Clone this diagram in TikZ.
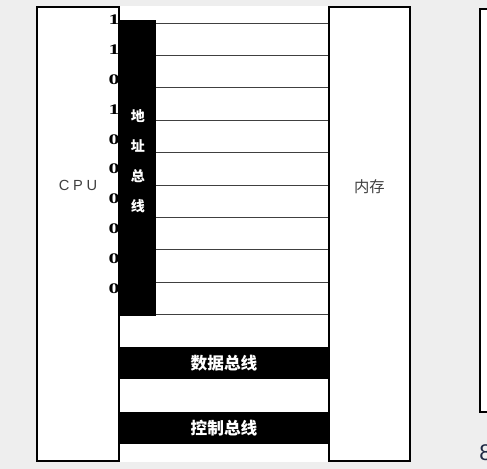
\documentclass[tikz,border=0pt]{standalone}
\usepackage{fontspec}
\usepackage{tikz}
\usetikzlibrary{positioning}
\newfontfamily\cjk{Noto Sans CJK SC}
\newfontfamily\bitfont{Liberation Serif}
\newfontfamily\cpufont[LetterSpace=25]{Liberation Sans}
\setmainfont{Liberation Sans}
\definecolor{canvas}{HTML}{EEEEEE}
\definecolor{pagenum}{HTML}{1F2A44}
\def\u{0.75pt}

\begin{document}
\begin{tikzpicture}[
        x=\u,y=-\u,
        unit/.style={draw=black,line width=1.5pt,fill=white,inner sep=0pt,
                     minimum width=81*\u,minimum height=454*\u},
        bus/.style={fill=black,inner sep=0pt,text=white,
                    font=\cjk\bfseries\fontsize{12.5}{14}\selectfont},
        wire/.style={black!75,line width=0.75pt},
        bit/.style={anchor=east,inner sep=0pt,xscale=1.5,transform shape,
                    font=\bitfont\bfseries\fontsize{11}{12}\selectfont}
      ]
        \clip (0,0) rectangle (487,469);
        \fill[canvas] (0,0) rectangle (487,469);
        \fill[white] (37,6) rectangle (410,462);
        % cpu and memory
        \node[unit,minimum width=82*\u] (cpu) at (78,234) {};
        \node[unit] (mem) at (369.5,234) {};
        \node[font=\cpufont\fontsize{11}{12}\selectfont,text=black!75] (cpulbl) at (78,185) {CPU};
        \node[font=\cjk\fontsize{11.5}{12}\selectfont,text=black!75] (memlbl) at (369.5,187) {内存};
        % next panel, cut off at the edge
        \node[draw=black,line width=1.5pt,fill=white,anchor=north west,inner sep=0pt,
              minimum width=90*\u,minimum height=403*\u] (next) at (479,8) {};
        \node[anchor=west,inner sep=0pt,text=pagenum,
              font=\fontsize{17}{18}\selectfont] (pnum) at (479,453) {8};
        % buses
        \node[bus,minimum width=36*\u,minimum height=296*\u] (abus) at (138,168) {};
        \node[bus,align=center,font=\cjk\bfseries\fontsize{10.5}{22.5}\selectfont] (abuslbl) at (138,161.5) {地\\址\\总\\线};
        \node[bus,minimum width=210*\u,minimum height=32*\u] (dbus) at (224,363) {数据总线};
        \node[bus,minimum width=210*\u,minimum height=32*\u] (cbus) at (224,428) {控制总线};
        % address lines and bits
        \foreach \i in {0,...,9}
          \draw[wire] (abus.east |- 0,{23+32.4*\i}) -- (mem.west |- 0,{23+32.4*\i});
        \foreach \d [count=\i from 0] in {1,1,0,1,0,0,0,0,0,0}
          \node[bit] (bit\i) at (120,{20+29.8*\i}) {\d};
      \end{tikzpicture}
\end{document}
